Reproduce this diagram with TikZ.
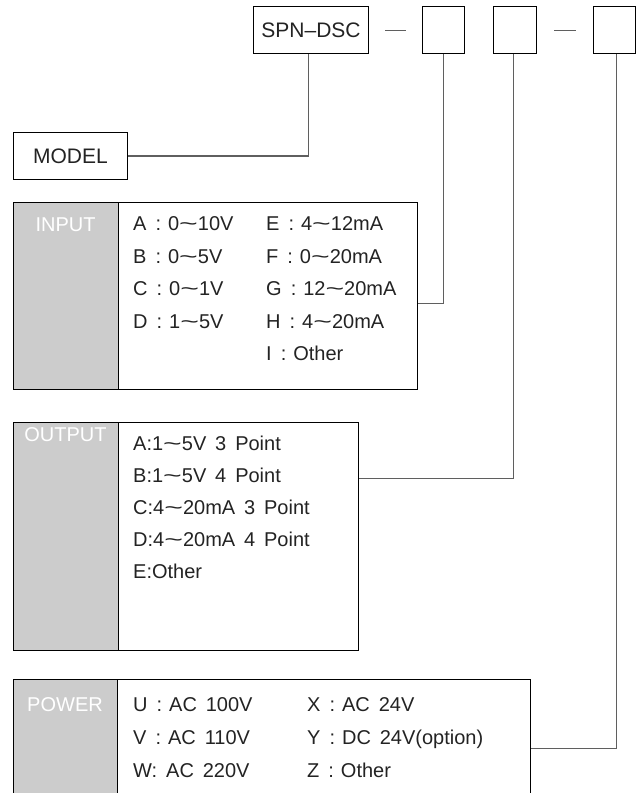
\documentclass[tikz,border=0pt]{standalone}
\usepackage{fontspec}
\setmainfont[WordSpace=1.6]{Liberation Sans}
\definecolor{labgray}{RGB}{204,204,204}
\definecolor{txt}{RGB}{35,35,35}
\definecolor{connc}{RGB}{95,95,95}
\newcommand{\tld}{\scalebox{1.6}[1]{\textasciitilde}}
\newcommand{\cln}{\hspace{9pt}:\hspace{7pt}}
\tikzset{
  box/.style={draw=black, line width=1pt, anchor=north west, inner sep=0pt},
  lab/.style={box, fill=labgray},
  labtxt/.style={text=white, font=\fontsize{20}{24}\selectfont, anchor=base, inner sep=0pt},
  item/.style={text=txt, font=\fontsize{20}{24}\selectfont, anchor=base west, inner sep=0pt},
  big/.style={text=txt, font=\fontsize{21}{25}\selectfont},
  conn/.style={draw=connc, line width=1.3pt},
}
\begin{document}
\begin{tikzpicture}[x=1pt,y=-1pt]
\useasboundingbox (0,0) rectangle (636,793);
% top row
\node[box, big, minimum width=115pt, minimum height=47pt] (spn) at (253,6) {SPN--DSC};
\node[box, minimum width=42pt, minimum height=47pt] (b1) at (422,6) {};
\node[box, minimum width=43pt, minimum height=47pt] (b2) at (493,6) {};
\node[box, minimum width=42pt, minimum height=47pt] (b3) at (593,6) {};
\draw[conn, line width=1pt] ([xshift=16pt]spn.east) -- ([xshift=-16pt]b1.west);
\draw[conn, line width=1pt] ([xshift=17pt]b2.east) -- ([xshift=-17pt]b3.west);
% model
\node[box, big, minimum width=114pt, minimum height=47pt] (model) at (13,132) {MODEL};
% input
\node[box, minimum width=404pt, minimum height=187pt] (input) at (13,202) {};
\node[lab, minimum width=105pt, minimum height=187pt] (inlab) at (13,202) {};
\node[labtxt] (intitle) at (65.5,231) {INPUT};
\node[item] (ia) at (133,230.5) {A\cln 0\tld10V};
\node[item] (ib) at (133,263) {B\cln 0\tld5V};
\node[item] (ic) at (133,295.5) {C\cln 0\tld1V};
\node[item] (id) at (133,328) {D\cln 1\tld5V};
\node[item] (ie) at (266,230.5) {E\cln 4\tld12mA};
\node[item] (if) at (266,263) {F\cln 0\tld20mA};
\node[item] (ig) at (266,295.5) {G\cln 12\tld20mA};
\node[item] (ih) at (266,328) {H\cln 4\tld20mA};
\node[item] (ii) at (266,360.5) {I\cln Other};
% output
\node[box, minimum width=345pt, minimum height=228pt] (output) at (13,422) {};
\node[lab, minimum width=105pt, minimum height=228pt] (outlab) at (13,422) {};
\node[labtxt] (outtitle) at (65.5,441) {OUTPUT};
\node[item] (oa) at (133,450.5) {A:1\tld5V 3 Point};
\node[item] (ob) at (133,482.5) {B:1\tld5V 4 Point};
\node[item] (oc) at (133,514.5) {C:4\tld20mA 3 Point};
\node[item] (od) at (133,546.5) {D:4\tld20mA 4 Point};
\node[item] (oe) at (133,578.5) {E:Other};
% power
\node[box, minimum width=517pt, minimum height=200pt] (power) at (13,679) {};
\node[lab, minimum width=104pt, minimum height=200pt] (powlab) at (13,679) {};
\node[labtxt] (powtitle) at (65,711) {POWER};
\node[item] (pu) at (133,711) {U\cln AC 100V};
\node[item] (pv) at (133,744) {V\cln AC 110V};
\node[item] (pw) at (133,777) {W: AC 220V};
\node[item] (px) at (307,711) {X\cln AC 24V};
\node[item] (py) at (307,744) {Y\cln DC 24V(option)};
\node[item] (pz) at (307,777) {Z\cln Other};
% connectors
\draw[conn] ([xshift=-2.5pt]spn.south) |- (model.east);
\draw[conn] (b1.south) |- ([yshift=-7.5pt]input.east);
\draw[conn] ([xshift=-1.5pt]b2.south) |- ([yshift=58pt]output.east);
\draw[conn] ([xshift=2pt]b3.south) |- ([yshift=31pt]power.east);
\end{tikzpicture}
\end{document}
